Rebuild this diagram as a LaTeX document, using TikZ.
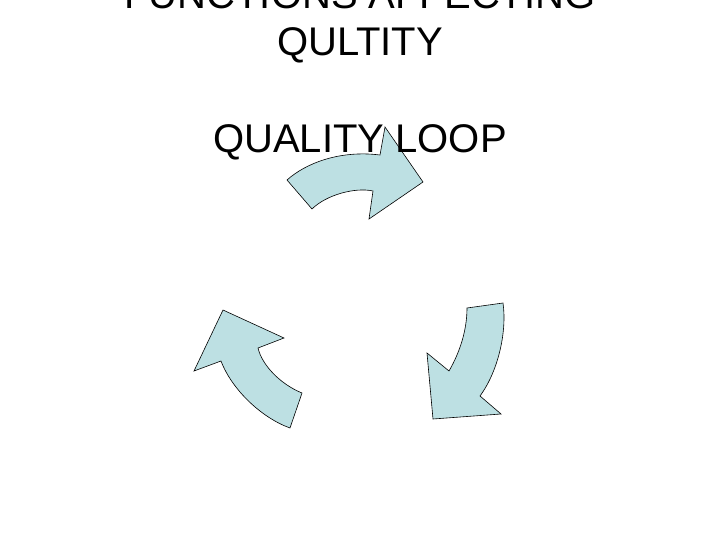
\documentclass[tikz,border=0pt]{standalone}
\usepackage{fontspec}
\setmainfont{Liberation Sans}
\definecolor{loopblue}{RGB}{189,224,227}

\begin{document}
\begin{tikzpicture}[x=1pt,y=-1pt,
    heading/.style={anchor=base, inner sep=0pt, font=\fontsize{40}{48}\selectfont},
    bentarrow/.style={draw=black, line width=0.6pt, fill=loopblue, line join=miter}]
        \useasboundingbox (0,0) rectangle (720,540);
        % the three curved arrows
        \draw[bentarrow] (287,180) .. controls (306,163) and (340,150) .. (380,155)
            -- (385,127) -- (423,182) -- (369,219) -- (373,191)
            .. controls (355,187) and (326,195) .. (312,209) -- cycle;
        \draw[bentarrow] (467,308) -- (503,303)
            .. controls (507,330) and (499,370) .. (480,396)
            -- (501,414) -- (433,419) -- (427,353) -- (449,371)
            .. controls (460,352) and (467,330) .. cycle;
        \draw[bentarrow] (223,310) -- (284,338) -- (258,348)
            .. controls (262,365) and (280,384) .. (302,393)
            -- (290,428) .. controls (262,418) and (232,390) .. (221,361)
            -- (194,371) -- cycle;
        % texts
        \node[heading] (title) at (360,8.5) {FUNCTIONS AFFECTING};
        \node[heading] (title2) at ([yshift=-47.5pt]title.base) {QULTITY};
        \node[heading] (loop) at ([yshift=-97pt]title2.base) {QUALITY LOOP};
    \end{tikzpicture}
\end{document}
